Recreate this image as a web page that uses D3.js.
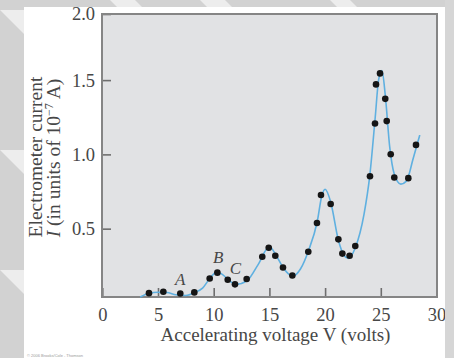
<!DOCTYPE html>
<html><head><meta charset="utf-8">
<script src="https://cdn.jsdelivr.net/npm/d3@7"></script>
<style>html,body{margin:0;padding:0;background:#d4d4d4;}svg{display:block;}</style>
</head><body>
<svg id="c" width="454" height="358"></svg>
<script>
// Measured data points (accelerating voltage V, current I in 1e-7 A)
const pointV = [4.19,5.48,7.0,8.26,9.64,10.33,11.26,11.91,12.96,14.36,14.94,15.53,16.22,17.06,18.49,19.27,19.63,20.5,21.19,21.55,22.2,22.71,24.03,24.48,24.57,24.93,25.4,25.53,25.89,26.21,27.47,28.16];
const pointI = [0.066,0.075,0.064,0.071,0.165,0.204,0.156,0.125,0.161,0.311,0.372,0.318,0.239,0.185,0.345,0.538,0.727,0.666,0.428,0.332,0.318,0.383,0.853,1.208,1.471,1.545,1.374,1.224,1.001,0.844,0.84,1.064];
// Fitted smooth curve
const curveV = [3.4,4.2,5.0,5.8,6.6,7.5,8.3,9.0,9.7,10.3,10.8,11.4,12.0,13.0,14.0,15.0,15.6,16.3,17.1,17.8,18.5,19.3,19.7,20.0,20.5,21.2,21.7,22.1,22.7,23.5,24.0,24.5,24.8,25.1,25.4,25.8,26.2,26.8,27.3,27.9,28.5];
const curveI = [0.04,0.065,0.072,0.07,0.055,0.05,0.07,0.1,0.17,0.21,0.19,0.15,0.125,0.15,0.26,0.38,0.32,0.23,0.18,0.23,0.35,0.55,0.72,0.765,0.68,0.42,0.32,0.30,0.37,0.6,0.85,1.25,1.5,1.565,1.4,1.05,0.87,0.80,0.82,0.97,1.13];
const xTicks = [0,5,10,15,20,25,30];
const yTicks = [0.5,1.0,1.5,2.0];
const markLabels = ["A","B","C"];
const markV = [7.0,10.4,11.95];
const markI = [0.118,0.271,0.197];

const svg = d3.select("#c");
// slide background
svg.append("rect").attr("width",454).attr("height",358).attr("fill","#d2d2d2");
const bands = [[0,10,40],[0,150,40],[0,270,40],[110,0,25],[200,0,25],[330,0,20]];
bands.forEach(b=>{
  const [x0,y0,w]=b;
  svg.append("path").attr("d",`M${x0},${y0} L${x0+w},${y0} L${x0+w+400},${y0+400} L${x0+400},${y0+400} Z`)
    .attr("fill","#f2f2f2").attr("opacity",0.85);
});
svg.append("rect").attr("x",24).attr("y",7).attr("width",421).attr("height",351).attr("fill","#ffffff");

const L=102, R=437, T=14, B=297;
const x = d3.scaleLinear().domain([0,30]).range([102.3,436.5]);
const y = d3.scaleLinear().domain([0.04,1.945]).range([B,T]).clamp(true);

svg.append("rect").attr("x",L).attr("y",T).attr("width",R-L).attr("height",B-T)
  .attr("fill","#e1e2e4");

const font = "Liberation Serif";
const txt = "#474747";

const xAxis = svg.append("g").attr("transform",`translate(0,${B})`)
  .call(d3.axisBottom(x).tickValues(xTicks).tickSize(-9).tickPadding(11).tickFormat(d3.format("d")));
const yAxis = svg.append("g").attr("transform",`translate(${L},0)`)
  .call(d3.axisLeft(y).tickValues(yTicks).tickSize(-9).tickPadding(7).tickFormat(d3.format(".1f")));
[xAxis,yAxis].forEach(g=>{
  g.attr("font-family",font).attr("font-size",18.5);
  g.select(".domain").remove();
  g.selectAll(".tick line").attr("stroke","#6e6e6e").attr("stroke-width",1.6);
  g.selectAll(".tick text").attr("fill",txt);
});
xAxis.selectAll(".tick text").attr("dy","0.71em");

svg.append("rect").attr("x",L).attr("y",T).attr("width",R-L).attr("height",B-T)
  .attr("fill","none").attr("stroke","#858585").attr("stroke-width",2);

const line = d3.line().x((d,i)=>x(curveV[i])).y((d,i)=>y(curveI[i])).curve(d3.curveMonotoneX);
svg.append("path").datum(curveV).attr("d",line).attr("fill","none")
  .attr("stroke","#5fb0e0").attr("stroke-width",1.6);

svg.append("g").selectAll("circle").data(pointV).join("circle")
  .attr("cx",(d,i)=>x(pointV[i])).attr("cy",(d,i)=>y(pointI[i])).attr("r",3.3).attr("fill","#151515");

svg.append("g").selectAll("text").data(markLabels).join("text")
  .attr("x",(d,i)=>x(markV[i])).attr("y",(d,i)=>y(markI[i]))
  .attr("text-anchor","middle").attr("fill",txt)
  .attr("font-family",font).attr("font-size",17).attr("font-style","italic").text(d=>d);

svg.append("text").attr("x",(L+R)/2+6).attr("y",341).attr("text-anchor","middle")
  .attr("fill",txt).attr("font-family",font).attr("font-size",19)
  .text("Accelerating voltage V (volts)");

const yl = svg.append("text").attr("transform","translate(41.5,157) rotate(-90)")
  .attr("text-anchor","middle").attr("fill",txt).attr("font-family",font).attr("font-size",19.5);
yl.append("tspan").attr("x",0).attr("y",0).text("Electrometer current");
const yl2 = svg.append("text").attr("transform","translate(59.5,158) rotate(-90)")
  .attr("text-anchor","middle").attr("fill",txt).attr("font-family",font).attr("font-size",19.5);
yl2.append("tspan").attr("font-style","italic").text("I");
yl2.append("tspan").text(" (in units of 10");
yl2.append("tspan").attr("dy","-7").attr("font-size",12).text("−7");
yl2.append("tspan").attr("dy","7").text(" A)");

svg.append("text").attr("x",27).attr("y",357).attr("fill","#9a9a9a")
  .attr("font-family","Liberation Sans").attr("font-size",4)
  .text("© 2006 Brooks/Cole - Thomson");

// right slide margin overlays the panel edge
svg.append("rect").attr("x",445).attr("y",0).attr("width",9).attr("height",358).attr("fill","#d6d6d6");
</script>
</body></html>
